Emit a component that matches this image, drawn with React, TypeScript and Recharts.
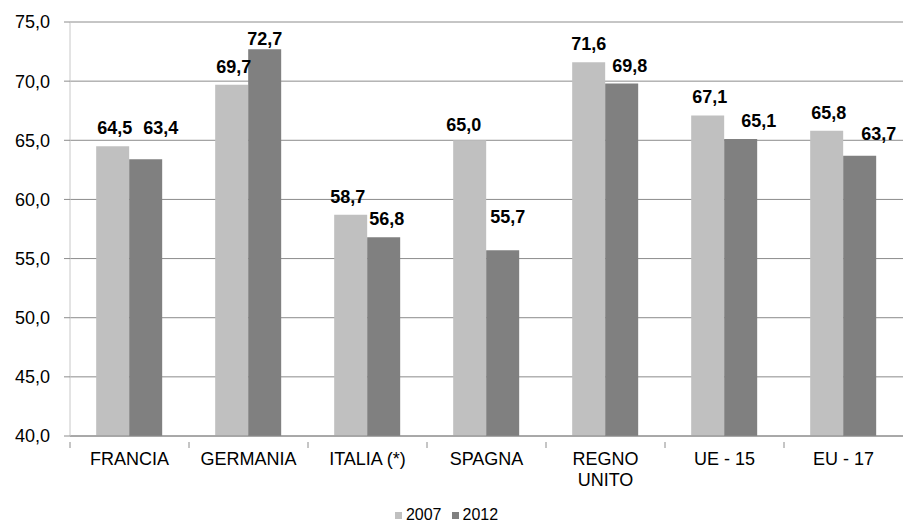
import React from "react";
import {
  BarChart,
  Bar,
  XAxis,
  YAxis,
  CartesianGrid,
  Legend,
  LabelList,
  Text,
} from "recharts";

const paesi = ["FRANCIA", "GERMANIA", "ITALIA (*)", "SPAGNA", "REGNO UNITO", "UE - 15", "EU - 17"];
const valori2007 = [64.5, 69.7, 58.7, 65.0, 71.6, 67.1, 65.8];
const valori2012 = [63.4, 72.7, 56.8, 55.7, 69.8, 65.1, 63.7];
const yTicks = [40, 45, 50, 55, 60, 65, 70, 75];

// hand-placed nudges for the value labels (px), so neighbouring labels don't collide
const spostaX2007 = [2, 2, -3, -6, 0, 2, 2];
const spostaY2007 = [0, 0, 0, 3, 0, 0, 0];
const spostaX2012 = [15, 0, 3, 5, 8, 18, 19];
const spostaY2012 = [-13, 8, 0, -15, 0, 0, -4];

const CHIARO = "#C0C0C0";
const SCURO = "#808080";
const GRIGLIA = "#8C8C8C";
const FONT = "'Liberation Sans', Arial, sans-serif";

const W = 903;
const H = 524;
const LEFT = 70;
const BAND = (W - LEFT) / paesi.length;

const dati = paesi.map((p, i) => ({
  paese: p,
  a2007: valori2007[i],
  a2012: valori2012[i],
}));

const fmt = (v: number) => v.toFixed(1).replace(".", ",");

// category label plus the Excel-style tick at the left edge of each band
function CategoryTick({ x, y, payload }: any) {
  const left = x - BAND / 2;
  return (
    <g>
      <line x1={left} y1={y - 2} x2={left} y2={y + 4} stroke={GRIGLIA} strokeWidth={1} />
      <Text
        x={x}
        y={y + 8}
        width={100}
        textAnchor="middle"
        verticalAnchor="start"
        lineHeight={21}
        fill="#000"
        fontSize={18}
        fontFamily={FONT}
      >
        {payload.value}
      </Text>
    </g>
  );
}

// bold value above each bar, 12px above its top plus the nudge
const etichetta = (dx: number[], dy: number[]) => (props: any) => {
  const { x, y, width, value, index } = props;
  return (
    <text
      x={x + width / 2 + dx[index]}
      y={y - 12 + dy[index]}
      textAnchor="middle"
      fill="#000"
      fontSize={18}
      fontWeight="bold"
      fontFamily={FONT}
    >
      {fmt(value)}
    </text>
  );
};

export default function App() {
  return (
    <div style={{ position: "absolute", left: 0, top: 0, width: W, height: H, background: "#fff" }}>
      <BarChart
        width={W}
        height={H}
        data={dati}
        margin={{ top: 22, right: 0, bottom: 0, left: 0 }}
        barCategoryGap="22%"
        barGap={0}
      >
        <CartesianGrid vertical={false} stroke={GRIGLIA} strokeWidth={1} />
        <XAxis
          dataKey="paese"
          interval={0}
          height={70}
          axisLine={{ stroke: GRIGLIA }}
          tickLine={false}
          tick={<CategoryTick />}
        />
        <YAxis
          domain={[40, 75]}
          ticks={yTicks}
          width={LEFT}
          tickFormatter={fmt}
          axisLine={{ stroke: "#C8C8C8" }}
          tickLine={{ stroke: GRIGLIA }}
          tickSize={6}
          tickMargin={14}
          tick={{ fill: "#000", fontSize: 18, fontFamily: FONT }}
        />
        <Legend
          verticalAlign="bottom"
          align="center"
          iconType="square"
          iconSize={7}
          wrapperStyle={{ fontFamily: FONT, fontSize: 16, bottom: 0 }}
          formatter={(v: string) => <span style={{ color: "#000" }}>{v}</span>}
        />
        <Bar dataKey="a2007" name="2007" fill={CHIARO} isAnimationActive={false}>
          <LabelList dataKey="a2007" content={etichetta(spostaX2007, spostaY2007)} />
        </Bar>
        <Bar dataKey="a2012" name="2012" fill={SCURO} isAnimationActive={false}>
          <LabelList dataKey="a2012" content={etichetta(spostaX2012, spostaY2012)} />
        </Bar>
      </BarChart>
    </div>
  );
}
